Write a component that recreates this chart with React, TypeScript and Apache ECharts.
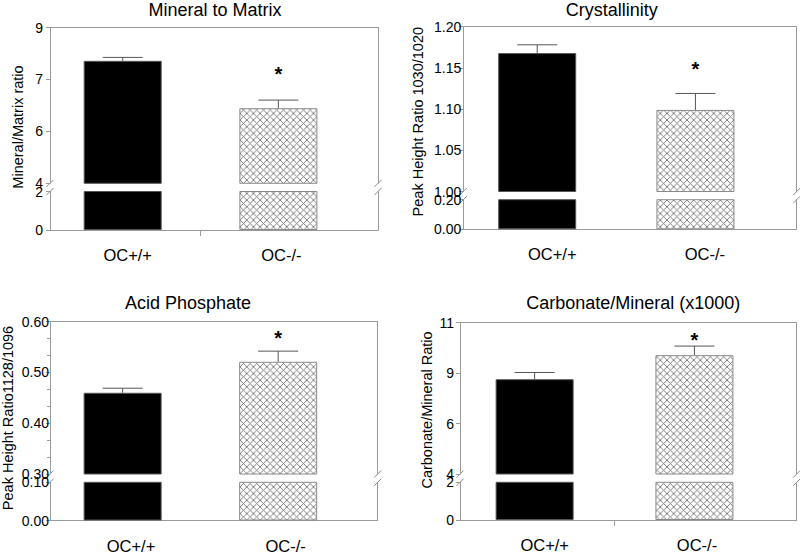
import React, { useEffect, useRef } from 'react';
import * as echarts from 'echarts';

// ---------------- data ----------------
const groups = ['OC+/+', 'OC-/-'];
const groupPos = [1, 2];

// Mineral to Matrix
const mmMean = [7.93, 6.41];
const mmErr = [0.11, 0.26];
const mmStar = 7.64;
const mmUpperTicks = [4, 5.667, 7.333, 9];
const mmUpperLabels = ['4', '6', '7', '9'];
const mmLowerTicks = [0, 2];
const mmLowerLabels = ['0', '2'];

// Crystallinity
const crMean = [1.168, 1.099];
const crErr = [0.01, 0.02];
const crStar = 1.154;
const crUpperTicks = [1.0, 1.05, 1.1, 1.15, 1.2];
const crUpperLabels = ['1.00', '1.05', '1.10', '1.15', '1.20'];
const crLowerTicks = [0, 0.2];
const crLowerLabels = ['0.00', '0.20'];

// Acid Phosphate
const apMean = [0.46, 0.521];
const apErr = [0.009, 0.021];
const apStar = 0.577;
const apUpperTicks = [0.3, 0.4, 0.5, 0.6];
const apUpperLabels = ['0.30', '0.40', '0.50', '0.60'];
const apLowerTicks = [0, 0.1];
const apLowerLabels = ['0.00', '0.10'];

// Carbonate/Mineral (x1000)
const cmMean = [8.38, 9.49];
const cmErr = [0.31, 0.42];
const cmStar = 10.41;
const cmUpperTicks = [4, 6.333, 8.667, 11];
const cmUpperLabels = ['4', '6', '9', '11'];
const cmLowerTicks = [0, 2];
const cmLowerLabels = ['0', '2'];

// ---------------- styling / layout ----------------
const FONT = '"Liberation Sans", Arial, sans-serif';
const AXIS_COLOR = '#9a9a9a';
const X_MIN = 0.533;
const X_MAX = 2.64;
const BAR_W = 78;
const CAP_W = 40;

const panels = [
  {
    title: 'Mineral to Matrix', yTitle: 'Mineral/Matrix ratio',
    mean: mmMean, err: mmErr, star: mmStar,
    upTicks: mmUpperTicks, upLabels: mmUpperLabels, loTicks: mmLowerTicks, loLabels: mmLowerLabels,
    minor: 0, centerTick: true,
    box: { left: 50, right: 378, top: 27.5, ub: 183.3, lt: 191.5, bottom: 230 },
    titlePos: [215, 10], yTitlePos: [18, 127], yLabelMargin: 7, xLabelAt: [1.032, 2.019], xLabelMargin: 18,
  },
  {
    title: 'Crystallinity', yTitle: 'Peak Height Ratio 1030/1020',
    mean: crMean, err: crErr, star: crStar,
    upTicks: crUpperTicks, upLabels: crUpperLabels, loTicks: crLowerTicks, loLabels: crLowerLabels,
    minor: 0, centerTick: false,
    box: { left: 463.3, right: 796.7, top: 26.7, ub: 191.5, lt: 199.7, bottom: 229.3 },
    titlePos: [611.7, 10], yTitlePos: [418, 121.7], yLabelMargin: 2, xLabelAt: [1.095, 2.06], xLabelMargin: 18,
  },
  {
    title: 'Acid Phosphate', yTitle: 'Peak Height Ratio1128/1096',
    mean: apMean, err: apErr, star: apStar,
    upTicks: apUpperTicks, upLabels: apUpperLabels, loTicks: apLowerTicks, loLabels: apLowerLabels,
    minor: 0.1, centerTick: false,
    box: { left: 50, right: 377.7, top: 321.7, ub: 474, lt: 482.3, bottom: 520.5 },
    titlePos: [188, 303.3], yTitlePos: [8, 418], yLabelMargin: 1, xLabelAt: [1.054, 2.048], xLabelMargin: 18,
  },
  {
    title: 'Carbonate/Mineral (x1000)', yTitle: 'Carbonate/Mineral Ratio',
    mean: cmMean, err: cmErr, star: cmStar,
    upTicks: cmUpperTicks, upLabels: cmUpperLabels, loTicks: cmLowerTicks, loLabels: cmLowerLabels,
    minor: 0, centerTick: true,
    box: { left: 460, right: 796.7, top: 322.5, ub: 474, lt: 482.3, bottom: 520 },
    titlePos: [633.3, 303.3], yTitlePos: [426.7, 410], yLabelMargin: 6, xLabelAt: [1.063, 2.016], xLabelMargin: 18,
  },
];

function hatchPattern() {
  const svg =
    '<svg xmlns="http://www.w3.org/2000/svg" width="20" height="20" viewBox="0 0 20 20">' +
    '<rect width="20" height="20" fill="#ffffff"/>' +
    '<path d="M-5 -5L25 25M15 -5L25 5M-5 15L5 25M25 -5L-5 25M-5 5L5 -5M15 25L25 15" stroke="#6e6e6e" stroke-width="2.6" fill="none"/>' +
    '</svg>';
  return {
    image: 'data:image/svg+xml;charset=utf-8,' + encodeURIComponent(svg),
    repeat: 'repeat',
    imageWidth: 6.67,
    imageHeight: 6.67,
  };
}

function lookup(ticks: number[], labels: string[]) {
  return (v: number) => {
    let best = 0;
    for (let i = 0; i < ticks.length; i++) {
      if (Math.abs(ticks[i] - v) < Math.abs(ticks[best] - v)) best = i;
    }
    return labels[best];
  };
}

function buildOption() {
  const grid: any[] = [];
  const xAxis: any[] = [];
  const yAxis: any[] = [];
  const series: any[] = [];
  const graphic: any[] = [];
  const lineStyle = { color: AXIS_COLOR, width: 1 };
  const hatch = hatchPattern();
  const itemStyles = [
    { color: '#000000', borderColor: '#555555', borderWidth: 1 },
    { color: hatch, borderColor: '#8a8a8a', borderWidth: 1 },
  ];

  panels.forEach((p) => {
    const b = p.box;
    const w = b.right - b.left;
    const gU = grid.length;
    grid.push({ left: b.left, top: b.top, width: w, height: b.ub - b.top, outerBoundsMode: 'none' });
    const gL = grid.length;
    grid.push({ left: b.left, top: b.lt, width: w, height: b.bottom - b.lt, outerBoundsMode: 'none' });

    const xU = xAxis.length;
    xAxis.push({
      type: 'value', gridIndex: gU, min: X_MIN, max: X_MAX, position: 'top',
      axisLine: { show: true, onZero: false, lineStyle },
      axisTick: { show: false }, axisLabel: { show: false }, splitLine: { show: false },
    });
    const xL = xAxis.length;
    xAxis.push({
      type: 'value', gridIndex: gL, min: X_MIN, max: X_MAX, position: 'bottom',
      axisLine: { show: true, onZero: false, lineStyle },
      axisTick: { show: p.centerTick, customValues: [1.5], length: 6, lineStyle },
      axisLabel: {
        customValues: p.xLabelAt,
        formatter: (v: number) => groups[v < 1.5 ? 0 : 1],
        margin: p.xLabelMargin, fontSize: 16.5, lineHeight: 14, fontFamily: FONT, color: '#000',
      },
      splitLine: { show: false },
    });

    const yU = yAxis.length;
    const upper: any = {
      type: 'value', gridIndex: gU, position: 'left',
      min: p.upTicks[0], max: p.upTicks[p.upTicks.length - 1],
      axisLine: { show: true, onZero: false, lineStyle },
      axisTick: { show: true, customValues: p.upTicks, length: 4, lineStyle },
      axisLabel: {
        customValues: p.upTicks, formatter: lookup(p.upTicks, p.upLabels),
        margin: p.yLabelMargin, fontSize: 14, fontFamily: FONT, color: '#000',
      },
      splitLine: { show: false },
    };
    if (p.minor) {
      upper.interval = p.minor;
      upper.minorTick = { show: true, splitNumber: 3, length: 3, lineStyle };
    }
    yAxis.push(upper);
    yAxis.push({
      type: 'value', gridIndex: gU, position: 'right',
      axisLine: { show: true, onZero: false, lineStyle },
      axisTick: { show: false }, axisLabel: { show: false }, splitLine: { show: false },
    });
    const yL = yAxis.length;
    yAxis.push({
      type: 'value', gridIndex: gL, position: 'left',
      min: p.loTicks[0], max: p.loTicks[p.loTicks.length - 1],
      axisLine: { show: true, onZero: false, lineStyle },
      axisTick: { show: true, customValues: p.loTicks, length: 4, lineStyle },
      axisLabel: {
        customValues: p.loTicks, formatter: lookup(p.loTicks, p.loLabels),
        margin: p.yLabelMargin, fontSize: 14, fontFamily: FONT, color: '#000',
      },
      splitLine: { show: false },
    });
    yAxis.push({
      type: 'value', gridIndex: gL, position: 'right',
      axisLine: { show: true, onZero: false, lineStyle },
      axisTick: { show: false }, axisLabel: { show: false }, splitLine: { show: false },
    });

    const barData = groupPos.map((x, k) => ({ value: [x, p.mean[k]], itemStyle: itemStyles[k] }));
    series.push({ type: 'bar', xAxisIndex: xU, yAxisIndex: yU, barWidth: BAR_W, clip: true, data: barData, silent: true });
    series.push({ type: 'bar', xAxisIndex: xL, yAxisIndex: yL, barWidth: BAR_W, clip: true, data: barData, silent: true });

    series.push({
      type: 'custom', xAxisIndex: xU, yAxisIndex: yU, silent: true,
      encode: { x: 0, y: 1 },
      data: groupPos.map((x, k) => [x, p.mean[k], p.err[k]]),
      renderItem: (params: any, api: any) => {
        const x = api.value(0), m = api.value(1), e = api.value(2);
        const a = api.coord([x, m]);
        const t = api.coord([x, m + e]);
        const st = { stroke: '#555555', lineWidth: 1 };
        return {
          type: 'group',
          children: [
            { type: 'line', shape: { x1: a[0], y1: a[1], x2: t[0], y2: t[1] }, style: st },
            { type: 'line', shape: { x1: t[0] - CAP_W / 2, y1: t[1], x2: t[0] + CAP_W / 2, y2: t[1] }, style: st },
          ],
        };
      },
    });

    series.push({
      type: 'custom', xAxisIndex: xU, yAxisIndex: yU, silent: true,
      encode: { x: 0, y: 1 },
      data: [[groupPos[1], p.star]],
      renderItem: (params: any, api: any) => {
        const c = api.coord([api.value(0), api.value(1)]);
        return {
          type: 'text', x: c[0], y: c[1] + 4.5,
          style: { text: '*', font: `bold 20px ${FONT}`, fill: '#000', align: 'center', verticalAlign: 'middle' },
        };
      },
    });

    // titles
    graphic.push({
      type: 'text', x: p.titlePos[0], y: p.titlePos[1], silent: true,
      style: { text: p.title, font: `18px ${FONT}`, fill: '#000', align: 'center', verticalAlign: 'middle' },
    });
    graphic.push({
      type: 'text', x: p.yTitlePos[0], y: p.yTitlePos[1], rotation: Math.PI / 2, silent: true,
      style: { text: p.yTitle, font: `14.5px ${FONT}`, fill: '#000', align: 'center', verticalAlign: 'middle' },
    });
    // break marks
    [b.left, b.right].forEach((x) => {
      [b.ub, b.lt].forEach((y) => {
        graphic.push({
          type: 'line', silent: true,
          shape: { x1: x - 3.5, y1: y + 3.5, x2: x + 3.5, y2: y - 3.5 },
          style: { stroke: '#8a8a8a', lineWidth: 1 },
        });
      });
    });
  });

  return {
    animation: false,
    backgroundColor: '#ffffff',
    textStyle: { fontFamily: FONT },
    grid, xAxis, yAxis, series,
    graphic: { elements: graphic },
  };
}

export default function App() {
  const ref = useRef<HTMLDivElement>(null);
  useEffect(() => {
    if (!ref.current) return;
    const chart = echarts.init(ref.current, null, { renderer: 'svg', width: 800, height: 554 });
    chart.setOption(buildOption() as any);
    return () => chart.dispose();
  }, []);
  return (
    <div
      ref={ref}
      style={{ position: 'absolute', left: 0, top: 0, width: 800, height: 554, background: '#fff' }}
    />
  );
}
